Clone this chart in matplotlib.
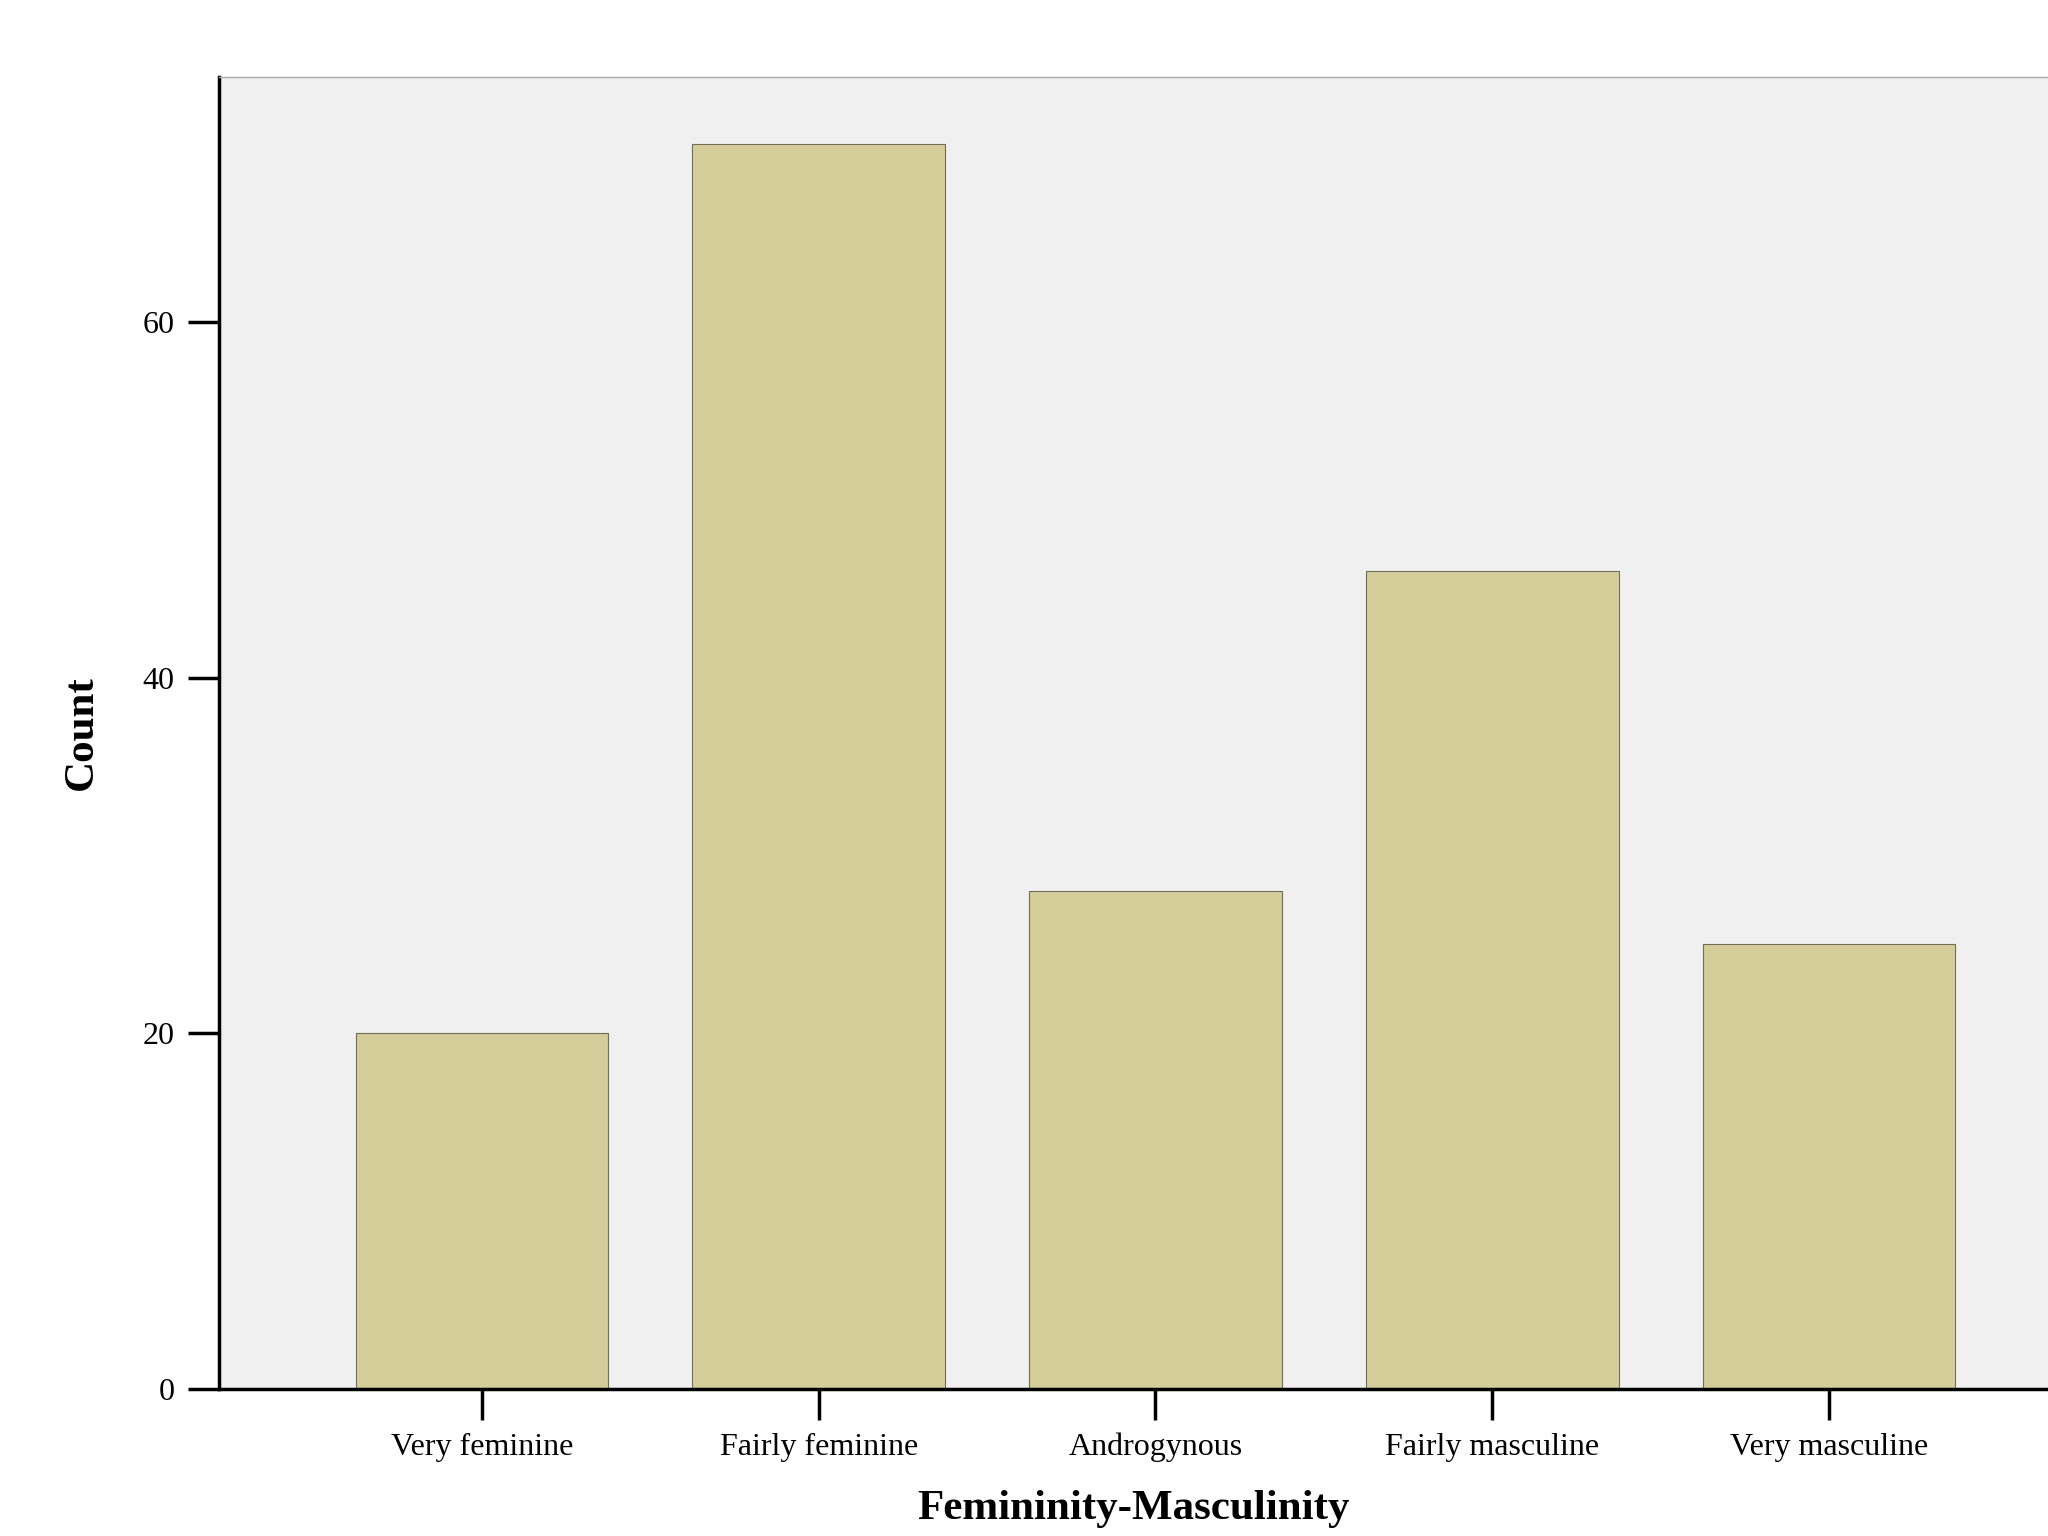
import matplotlib.pyplot as plt

categories = ["Very feminine", "Fairly feminine", "Androgynous", "Fairly masculine", "Very masculine"]
counts = [20, 70, 28, 46, 25]
y_ticks = [0, 20, 40, 60]

plt.rcParams['font.family'] = ['Liberation Serif', 'DejaVu Serif']

fig = plt.figure(figsize=(20.48, 15.36), dpi=100)
ax = fig.add_axes([0.107, 0.096, 0.893, 0.854])
ax.set_facecolor('#f0f0f0')

x = range(len(categories))
ax.bar(x, counts, width=0.75, color='#d4cd99', edgecolor='#6e6e5a', linewidth=0.8, zorder=2)

ax.set_xlim(-0.78, 4.65)
ax.set_ylim(0, 73.8)
ax.set_xticks(list(x))
ax.set_xticklabels(categories, fontsize=23)
ax.set_yticks(y_ticks)
ax.set_yticklabels([str(v) for v in y_ticks], fontsize=23)
ax.tick_params(axis='both', direction='out', length=22, width=2.5, color='black', pad=10)

for side in ['right']:
    ax.spines[side].set_visible(False)
ax.spines['top'].set_color('#aaaaaa')
ax.spines['top'].set_linewidth(1)
ax.spines['left'].set_linewidth(2.5)
ax.spines['bottom'].set_linewidth(2.5)

ax.set_ylabel('Count', fontsize=31, fontweight='bold', labelpad=30)
ax.set_xlabel('Femininity-Masculinity', fontsize=31, fontweight='bold', labelpad=20)

fig.savefig('out.png', dpi=100)
